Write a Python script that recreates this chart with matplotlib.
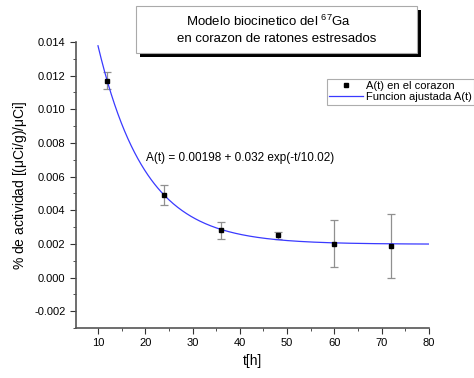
import numpy as np
import matplotlib
matplotlib.use('Agg')
import matplotlib.pyplot as plt
from matplotlib.patches import Rectangle
from matplotlib.ticker import MultipleLocator

plt.rcParams['font.family'] = ['Liberation Sans', 'DejaVu Sans']

# measured data
t_data = [12, 24, 36, 48, 60, 72]
a_data = [0.0117, 0.0049, 0.0028, 0.0025, 0.0020, 0.0019]
a_err = [0.0005, 0.0006, 0.0005, 0.0002, 0.0014, 0.0019]

# fitted model parameters
fit_offset = 0.00198
fit_amp = 0.032
fit_tau = 10.02
fit_range = [10, 80]

W, H = 474, 378
fig = plt.figure(figsize=(W / 100, H / 100), dpi=100)
ax = fig.add_axes([76 / W, 1 - 328 / H, (429 - 76) / W, (328 - 42) / H])

t_fit = np.linspace(fit_range[0], fit_range[1], 300)
a_fit = fit_offset + fit_amp * np.exp(-t_fit / fit_tau)

ax.errorbar(t_data, a_data, yerr=a_err, fmt='none', ecolor='#909090',
            elinewidth=0.9, capsize=3, capthick=0.9, zorder=2)
pts, = ax.plot(t_data, a_data, 's', color='black', markersize=3,
               linestyle='none', label='A(t) en el corazon', zorder=3)
line, = ax.plot(t_fit, a_fit, color='#3a3aff', linewidth=0.9,
                label='Funcion ajustada A(t)', zorder=2)

ax.set_xlim(5.35, 80)
ax.set_ylim(-0.003, 0.014)
ax.xaxis.set_minor_locator(MultipleLocator(5))
ax.yaxis.set_minor_locator(MultipleLocator(0.001))
ax.set_xticks(range(10, 81, 10))
ax.set_yticks(np.arange(-0.002, 0.0141, 0.002))
ax.yaxis.set_major_formatter(plt.FuncFormatter(lambda v, p: f'{v:.3f}'))

for side in ['top', 'right']:
    ax.spines[side].set_visible(False)
for side in ['left', 'bottom']:
    ax.spines[side].set_color('#555555')
    ax.spines[side].set_linewidth(1.2)
ax.tick_params(which='both', direction='out', colors='#333333',
               labelsize=8, labelcolor='black')
ax.tick_params(which='major', length=4)
ax.tick_params(which='minor', length=2.5)

ax.set_xlabel('t[h]', fontsize=10)
ax.set_ylabel(r'% de actividad [($\mathregular{\mu}$Ci/g)/$\mathregular{\mu}$Ci]',
              fontsize=10)

ax.text(20.2, 0.0071, 'A(t) = 0.00198 + 0.032 exp(-t/10.02)', fontsize=8.5,
        va='center')

# legend box
leg = fig.legend(handles=[pts, line], loc='upper left',
                 bbox_to_anchor=(327 / W, 1 - 79 / H), fontsize=8,
                 frameon=True, fancybox=False, borderpad=0.2,
                 handlelength=3, handletextpad=0.3, labelspacing=0.1,
                 borderaxespad=0)
leg.get_frame().set_edgecolor('#999999')
leg.get_frame().set_linewidth(0.8)

# title box with shadow
bx0, by0, bx1, by1 = 136, 6, 417, 53
bw, bh = (bx1 - bx0) / W, (by1 - by0) / H
fig.patches.append(Rectangle(((bx0 + 4) / W, 1 - (by1 + 4) / H), bw, bh,
                             transform=fig.transFigure, facecolor='black',
                             edgecolor='none', zorder=1))
fig.patches.append(Rectangle((bx0 / W, 1 - by1 / H), bw, bh,
                             transform=fig.transFigure, facecolor='white',
                             edgecolor='#aaaaaa', linewidth=0.8, zorder=2))
cx = (bx0 + bx1) / 2 / W
fig.text(cx - 8 / W, 1 - 21 / H, r'Modelo biocinetico del $\mathregular{^{67}}$Ga',
         ha='center', va='center', fontsize=9.5, zorder=3)
fig.text(cx, 1 - 39 / H, 'en corazon de ratones estresados',
         ha='center', va='center', fontsize=9.5, zorder=3)

fig.savefig('out.png', dpi=100)
